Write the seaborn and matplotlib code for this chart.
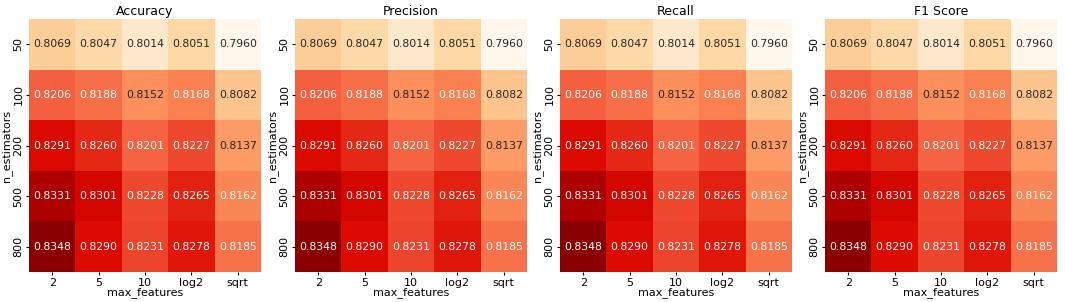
import numpy as np
import pandas as pd
import matplotlib
matplotlib.use("Agg")
import matplotlib.pyplot as plt
from matplotlib.colors import LinearSegmentedColormap
import seaborn as sns

n_estimators = ["50", "100", "200", "500", "800"]
max_features = ["2", "5", "10", "log2", "sqrt"]
metrics = ["Accuracy", "Precision", "Recall", "F1 Score"]

row_50 = [0.8069, 0.8047, 0.8014, 0.8051, 0.7960]
row_100 = [0.8206, 0.8188, 0.8152, 0.8168, 0.8082]
row_200 = [0.8291, 0.8260, 0.8201, 0.8227, 0.8137]
row_500 = [0.8331, 0.8301, 0.8228, 0.8265, 0.8162]
row_800 = [0.8348, 0.8290, 0.8231, 0.8278, 0.8185]

values = pd.DataFrame([row_50, row_100, row_200, row_500, row_800],
                      index=n_estimators, columns=max_features)

# OrRd-like colormap, slightly brighter reds as in the reference
cmap = LinearSegmentedColormap.from_list("orrd_bright", [
    (0.0, "#fff7ec"), (0.125, "#feead0"), (0.25, "#fdd49e"),
    (0.375, "#fdb57e"), (0.5, "#fc8d59"), (0.625, "#f56342"),
    (0.75, "#e8301c"), (0.85, "#dc0a00"), (0.93, "#c40000"),
    (1.0, "#8a0000")])

fig = plt.figure(figsize=(10.65, 3.02), dpi=100)
lefts = [29, 295, 560, 825]
W, H = 1065, 302
for left, metric in zip(lefts, metrics):
    ax = fig.add_axes([left / W, 1 - 272 / H, 232 / W, 253 / H])
    sns.heatmap(values, ax=ax, cmap=cmap, annot=True, fmt=".4f",
                cbar=False, annot_kws={"fontsize": 7.8})
    ax.set_title(metric, fontsize=9, pad=3)
    ax.set_xlabel("max_features", fontsize=8, labelpad=0)
    ax.set_ylabel("n_estimators", fontsize=8, labelpad=1)
    ax.tick_params(labelsize=8, length=2.5, pad=1.5)
    ax.set_yticklabels(n_estimators, rotation=90, va="center")
    ax.set_xticklabels(max_features, rotation=0)

fig.savefig("out.png", dpi=100)
